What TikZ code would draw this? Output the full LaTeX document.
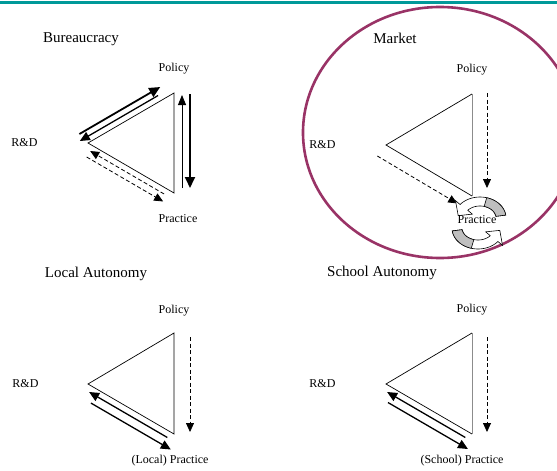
\documentclass[tikz,border=0pt]{standalone}
\usepackage{fontspec}
\setmainfont{Liberation Serif}
\usetikzlibrary{positioning,calc,arrows.meta}
\definecolor{bandteal}{RGB}{0,153,153}
\definecolor{plum}{RGB}{153,51,102}

\begin{document}
\begin{tikzpicture}[x=1pt,y=-1pt,
    every node/.style={font=\fontsize{12}{14}\selectfont},
    title/.style={font=\fontsize{15}{18}\selectfont},
    side/.style={line width=0.7pt},
    greyside/.style={line width=1pt,black!45},
    big/.style={line width=1.8pt,-{Triangle[length=11pt,width=10pt]}},
    mid/.style={line width=1.3pt,-{Triangle[length=10pt,width=9pt]}},
    fine/.style={line width=0.9pt,-{Triangle[length=10pt,width=8pt]}},
    dashy/.style={line width=0.8pt,dash pattern=on 4pt off 2.5pt,-{Triangle[length=9pt,width=8pt]}},
    cyc/.style={fill=white,draw,line width=0.6pt},
    cycback/.style={fill=black!25,draw,line width=0.6pt}]
    \path[use as bounding box] (0,0) rectangle (557,471);
    \clip (0,0) rectangle (557,471);
    \draw[bandteal,line width=3.5pt] (0,2.5) -- (557,2.5);
    \draw[plum,line width=2.6pt] (440,132.5) ellipse [x radius=137,y radius=125.5];

    % corners of the four triangles
    \coordinate (rd1) at (88,143);  \coordinate (po1) at (174,93);  \coordinate (pr1) at (174,193);
    \coordinate (rd2) at (386,145); \coordinate (po2) at (472,94);  \coordinate (pr2) at (472,196);
    \coordinate (rd3) at (88,384);  \coordinate (po3) at (174,333); \coordinate (pr3) at (174,434);
    \coordinate (rd4) at (386,384); \coordinate (po4) at (472,333); \coordinate (pr4) at (472,434);

    \draw[side] (rd1) -- (po1) -- (pr1) -- cycle;
    \draw[side] (pr2) -- (rd2) -- (po2);
    \draw[greyside] (po2) -- (pr2);
    \draw[side] (rd3) -- (po3) -- (pr3) -- cycle;
    \draw[side] (pr4) -- (rd4) -- (po4);
    \draw[greyside] (po4) -- (pr4);

    % Bureaucracy
    \draw[big] ($(rd1)!-3pt!(po1)+(-6,-10.5)$) -- ($(po1)!9pt!(rd1)+(-6,-10.5)$);
    \draw[mid] ($(po1)!15pt!(rd1)+(-3,-5)$) -- ($(rd1)!-6pt!(po1)+(-3,-5)$);
    \draw[fine] ($(pr1)!5pt!(po1)+(8,0)$) -- ($(po1)!2pt!(pr1)+(8,0)$);
    \draw[big] ($(po1)!1pt!(pr1)+(16,0)$) -- ($(pr1)!5pt!(po1)+(16,0)$);
    \draw[dashy] ($(pr1)!8pt!(rd1)+(-3,5)$) -- ($(rd1)!6pt!(pr1)+(-3,5)$);
    \draw[dashy] ($(rd1)!6pt!(pr1)+(-6.5,11)$) -- ($(pr1)!5pt!(rd1)+(-6.5,11)$);

    % Market
    \draw[dashy] ($(po2)+(15,-1)$) -- ($(pr2)!8pt!(po2)+(15,0)$);
    \draw[dashy] ($(rd2)!-2pt!(pr2)+(-7,12)$) -- ($(pr2)!9pt!(rd2)+(-7,12)$);
    \foreach \r in {0,180} {
      \filldraw[cyc,rotate around={\r:(479,223)},shift={(480,218)}]
        plot[domain=-8:-140,samples=30] ({26*cos(\x)},{21*sin(\x)})
        -- (-140:32 and 27) -- (-172:22 and 17) -- (-140:10 and 6)
        -- plot[domain=-140:-8,samples=30] ({16*cos(\x)},{12*sin(\x)})
        -- cycle;
      \filldraw[cycback,rotate around={\r:(479,223)},shift={(480,218)}]
        plot[domain=-8:-75,samples=16] ({26*cos(\x)},{21*sin(\x)})
        -- plot[domain=-75:-8,samples=16] ({16*cos(\x)},{12*sin(\x)})
        -- cycle;
    }

    % Local Autonomy
    \draw[dashy] ($(po3)!4pt!(pr3)+(16,0)$) -- ($(pr3)!2pt!(po3)+(16,0)$);
    \draw[mid] ($(pr3)!4pt!(rd3)+(-3.2,5.5)$) -- ($(rd3)!5pt!(pr3)+(-3.2,5.5)$);
    \draw[mid] ($(rd3)!12pt!(pr3)+(-7.5,13)$) -- ($(pr3)!-5pt!(rd3)+(-7.5,13)$);

    % School Autonomy
    \draw[dashy] ($(po4)!4pt!(pr4)+(15,0)$) -- ($(pr4)!2pt!(po4)+(15,0)$);
    \draw[mid] ($(pr4)!4pt!(rd4)+(-3.2,5.5)$) -- ($(rd4)!5pt!(pr4)+(-3.2,5.5)$);
    \draw[mid] ($(rd4)!11pt!(pr4)+(-7.5,13)$) -- ($(pr4)!-4pt!(rd4)+(-7.5,13)$);

    \node[title] (bur) at (81,39) {Bureaucracy};
    \node[title] (mkt) at (395,38) {Market};
    \node[title] (loc) at (96,274) {Local Autonomy};
    \node[title] (sch) at (382,273) {School Autonomy};

    \node (pol1) [above=15pt of po1] {Policy};
    \node (rdl1) [left=47pt of rd1] {R\&D};
    \node (pra1) [below=18pt of pr1,xshift=4pt] {Practice};
    \node (pol2) [above=15pt of po2] {Policy};
    \node (rdl2) [left=47pt of rd2] {R\&D};
    \node (pra2) [below=16pt of pr2,xshift=5pt] {Practice};
    \node (pol3) [above=13pt of po3] {Policy};
    \node (rdl3) [left=46pt of rd3] {R\&D};
    \node (pra3) [below=18pt of pr3,xshift=-4pt] {(Local) Practice};
    \node (pol4) [above=14pt of po4] {Policy};
    \node (rdl4) [left=47pt of rd4] {R\&D};
    \node (pra4) [below=18pt of pr4,xshift=-10pt] {(School) Practice};
\end{tikzpicture}
\end{document}
